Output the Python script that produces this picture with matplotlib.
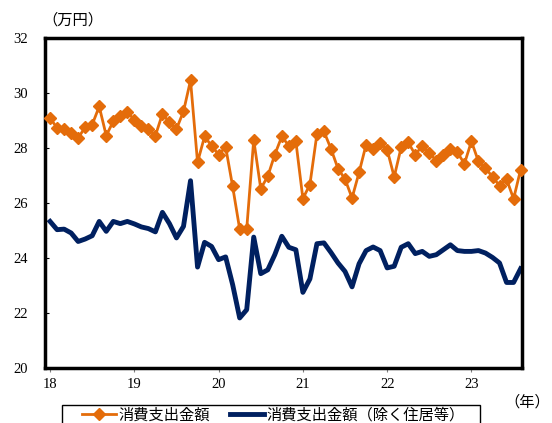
import matplotlib

matplotlib.use("Agg")
import matplotlib.pyplot as plt
import numpy as np
from matplotlib.patches import Rectangle

plt.rcParams["font.family"] = ["Liberation Serif", "Noto Sans CJK JP"]

# monthly series, Jan 2018 - Aug 2023 (万円)
months = np.arange(68)
years = 18 + months / 12

spending = [
    29.09, 28.73, 28.69, 28.55, 28.36, 28.76, 28.85, 29.51, 28.45, 28.97, 29.15, 29.30,
    29.03, 28.79, 28.69, 28.45, 29.24, 28.93, 28.69, 29.33, 30.46, 27.48, 28.42, 28.08,
    27.76, 28.04, 26.60, 25.05, 25.05, 28.30, 26.52, 26.97, 27.76, 28.42, 28.08, 28.24,
    26.16, 26.67, 28.51, 28.60, 27.97, 27.25, 26.87, 26.18, 27.11, 28.12, 27.96, 28.18,
    27.94, 26.95, 28.03, 28.20, 27.76, 28.08, 27.82, 27.54, 27.76, 27.97, 27.84, 27.43,
    28.24, 27.51, 27.27, 26.95, 26.63, 26.87, 26.15, 27.21,
]
spending_ex_housing = [
    25.33, 25.03, 25.05, 24.91, 24.60, 24.69, 24.81, 25.33, 24.97, 25.33, 25.25, 25.33,
    25.24, 25.13, 25.07, 24.95, 25.66, 25.25, 24.73, 25.15, 26.81, 23.67, 24.57, 24.42,
    23.94, 24.04, 23.03, 21.82, 22.12, 24.76, 23.43, 23.57, 24.12, 24.79, 24.39, 24.30,
    22.75, 23.24, 24.52, 24.55, 24.20, 23.82, 23.51, 22.95, 23.79, 24.27, 24.40, 24.27,
    23.64, 23.70, 24.39, 24.52, 24.16, 24.24, 24.06, 24.12, 24.30, 24.48, 24.27, 24.24,
    24.24, 24.27, 24.18, 24.02, 23.82, 23.11, 23.11, 23.61,
]

W, H = 552, 423
fig = plt.figure(figsize=(W / 100, H / 100), dpi=100)
ax = fig.add_axes([45 / W, 1 - 368 / H, 477 / W, 330 / H])

ax.plot(years, spending, color="#E46C0A", lw=2, marker="D", ms=6,
        label="消費支出金額", clip_on=False, zorder=3)
ax.plot(years, spending_ex_housing, color="#002060", lw=3.5,
        label="消費支出金額（除く住居等）", zorder=2)

ax.set_xlim(17.94, 23.6)
ax.set_ylim(20, 32)
ax.set_yticks(range(20, 33, 2))
ax.set_xticks(range(18, 24))
for s in ax.spines.values():
    s.set_linewidth(2.5)
ax.tick_params(axis="y", direction="in", length=3, pad=12, labelsize=10.5)
ax.tick_params(axis="x", direction="out", length=3, color="gray", pad=4, labelsize=10.5)

fig.text(42 / W, 1 - 20 / H, "（万円）", fontsize=11, va="center", ha="left")
fig.text(550 / W, 1 - 402 / H, "（年）", fontsize=11, va="center", ha="right")

# legend box sits under the axes and runs off the bottom edge
fig.patches.append(Rectangle((62 / W, -0.05), 418 / W, 0.05 + 1 - 405 / H,
                             transform=fig.transFigure, fill=False,
                             edgecolor="black", lw=1))
fig.legend(loc="upper left", bbox_to_anchor=(82 / W, 1 - 408 / H), ncol=2,
           frameon=False, fontsize=11, handlelength=2.2, handletextpad=0.2,
           columnspacing=1.3, borderpad=0, borderaxespad=0)

fig.savefig("out.png", dpi=100)
